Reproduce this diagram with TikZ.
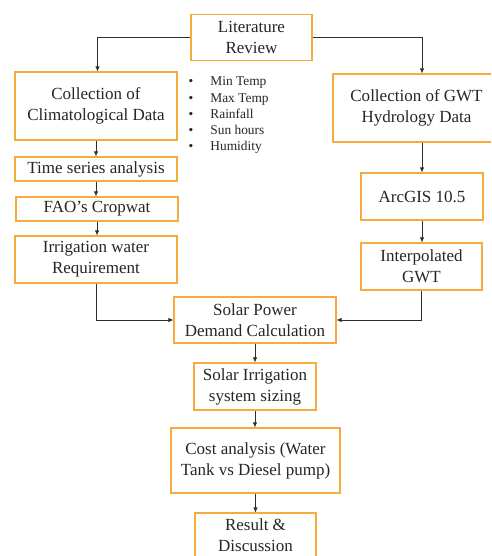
\documentclass[tikz,border=0pt]{standalone}
\usepackage{fontspec}
\setmainfont{Liberation Serif}
\usetikzlibrary{arrows.meta}
\definecolor{boxorange}{RGB}{245,172,60}
\definecolor{linegray}{RGB}{45,45,45}
\tikzset{
  box/.style={draw=boxorange, line width=1.1pt, fill=white, align=center,
    inner sep=2pt, font=\fontsize{17}{21}\selectfont, text=black!85},
  arr/.style={draw=linegray, line width=0.8pt, -{Latex[length=5pt,width=4.5pt]}},
}
\begin{document}
\begin{tikzpicture}[x=1pt,y=-1pt]
\clip (0,0) rectangle (491,556);
\fill[white] (0,0) rectangle (491,556);

\node[box, minimum width=121pt, minimum height=46pt] (lr) at (251.5,37.5) {Literature\\Review};
\node[box, minimum width=162pt, minimum height=68pt] (clim) at (96,106) {Collection of\\Climatological Data};
\node[box, minimum width=167pt, minimum height=68pt] (gwt) at (416.5,108) {Collection of GWT\\Hydrology Data};
\node[box, minimum width=162pt, minimum height=24pt] (ts) at (96,169) {Time series analysis};
\node[box, minimum width=162pt, minimum height=24pt] (fao) at (97,209) {FAO’s Cropwat};
\node[box, minimum width=162pt, minimum height=47pt] (iwr) at (96,259.5) {Irrigation water\\Requirement};
\node[box, minimum width=122pt, minimum height=47pt] (arc) at (422,196.5) {ArcGIS 10.5};
\node[box, minimum width=121pt, minimum height=47pt] (interp) at (421.5,266.5) {Interpolated\\GWT};
\node[box, minimum width=162pt, minimum height=46pt] (spd) at (255,320) {Solar Power\\Demand Calculation};
\node[box, minimum width=122pt, minimum height=47pt] (sis) at (255,386.5) {Solar Irrigation\\system sizing};
\node[box, minimum width=169pt, minimum height=65pt] (cost) at (255.5,460.5) {Cost analysis (Water\\Tank vs Diesel pump)};
\node[box, minimum width=121pt, minimum height=44pt] (res) at (255.5,535) {Result \&\\Discussion};

\node[anchor=base west, inner sep=0pt, font=\fontsize{13.4}{16.2}\selectfont, text=black!85] (bul) at (188.5,86)
 {\begin{tabular}[t]{@{}l@{\hspace{17pt}}l@{}}
  • & Min Temp\\
  • & Max Temp\\
  • & Rainfall\\
  • & Sun hours\\
  • & Humidity
 \end{tabular}};

\coordinate (gwttop) at ([xshift=5.5pt]gwt.north);
\draw[arr] (lr.west) -| ([xshift=1.5pt]clim.north);
\draw[arr] (lr.east) -| (gwttop);
\draw[arr] (clim.south) -- (ts.north);
\draw[arr] (ts.south) -- (ts.south |- fao.north);
\draw[arr] (fao.south) -- (fao.south |- iwr.north);
\draw[arr] (gwttop |- gwt.south) -- (arc.north);
\draw[arr] (arc.south) -- (arc.south |- interp.north);
\draw[arr] (iwr.south) |- (spd.west);
\draw[arr] (interp.south) |- (spd.east);
\draw[arr] (spd.south) -- (sis.north);
\draw[arr] (sis.south) -- (sis.south |- cost.north);
\draw[arr] (cost.south) -- (cost.south |- res.north);
\end{tikzpicture}
\end{document}
